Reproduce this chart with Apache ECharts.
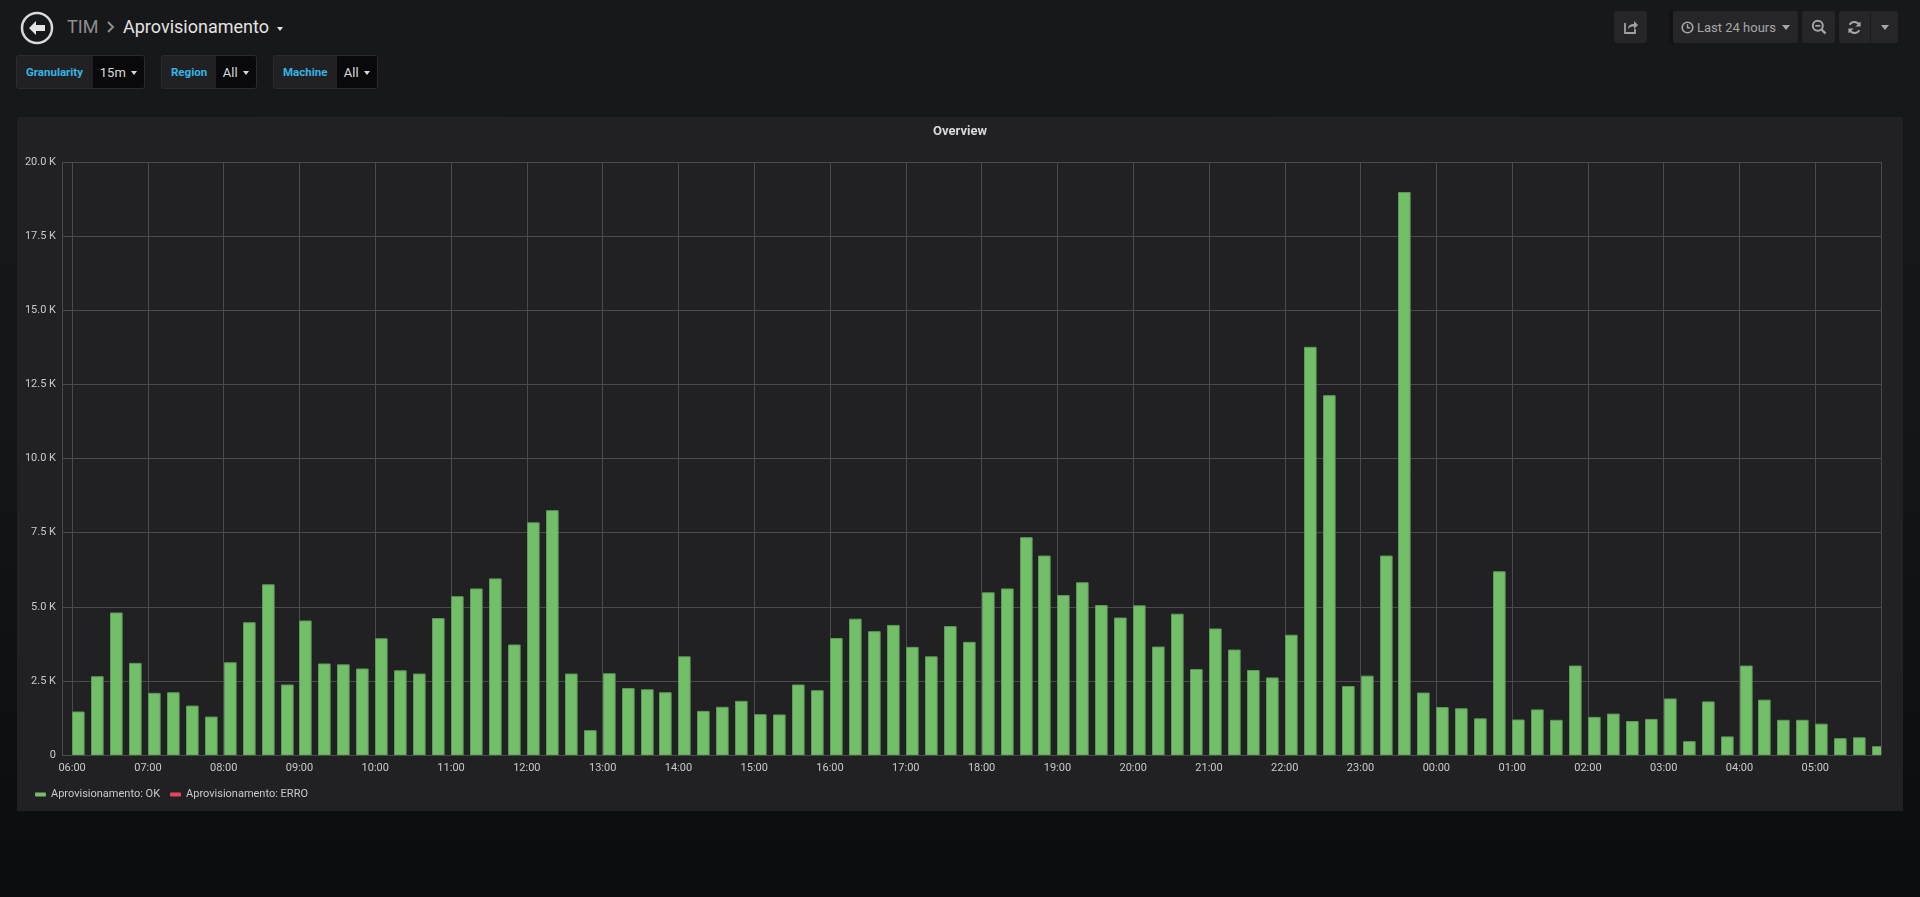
<!DOCTYPE html>
<html>
<head>
<meta charset="utf-8">
<script src="https://cdn.jsdelivr.net/npm/echarts@6.0.0/dist/echarts.min.js"></script>
<style>
    html, body {
        margin: 0;
        padding: 0;
        width: 1920px;
        height: 897px;
        overflow: hidden;
        font-family: Roboto, "Helvetica Neue", Arial, sans-serif;
        background: linear-gradient(to bottom, #17181a 0%, #151618 45%, #0b0c0e 100%);
    }
    .abs { position: absolute; }
    .crumb { top: 12px; height: 30px; line-height: 30px; font-size: 18px; }
    .var { top: 55px; height: 34px; display: flex; border-radius: 3px; overflow: hidden; border: 1px solid #2a2b2e; box-sizing: border-box; }
    .var .lbl { background: #212124; color: #33b5e5; font-weight: bold; font-size: 11.5px; display: flex; align-items: center; padding-left: 9px; box-sizing: border-box; }
    .var .val { background: #09090b; color: #d8d9da; font-size: 13px; display: flex; align-items: center; padding-left: 7px; padding-top: 1px; box-sizing: border-box; }
    .caret { display: inline-block; width: 0; height: 0; border-left: 3.5px solid transparent; border-right: 3.5px solid transparent; border-top: 4px solid #d8d9da; margin-left: 5px; }
    .btn { top: 11px; height: 32px; background: #262628; border-radius: 3px; display: flex; align-items: center; justify-content: center; color: #a5a6a7; font-size: 13px; }
    #panel { left: 17px; top: 117px; width: 1886px; height: 694px; background: #212124; }
    #wq-chart { width: 1886px; height: 694px; }
</style>
</head>
<body>
<!-- header -->
<svg class="abs" style="left:20px;top:11px" width="34" height="34" viewBox="0 0 34 34">
    <circle cx="17" cy="17" r="15" fill="none" stroke="#d8d9da" stroke-width="2.5"/>
    <path d="M9 17 L16 10 L16 14 L25 14 L25 20 L16 20 L16 24 Z" fill="#e3e3e3"/>
</svg>
<div class="abs crumb" style="left:67px;color:#8e8e8e">TIM</div>
<svg class="abs" style="left:105px;top:20px" width="12" height="14" viewBox="0 0 12 14">
    <polyline points="3,2 8,7 3,12" fill="none" stroke="#8e8e8e" stroke-width="2"/>
</svg>
<div class="abs crumb" style="left:123px;color:#e3e3e3">Aprovisionamento</div>
<div class="abs" style="left:277px;top:27px;width:0;height:0;border-left:3.5px solid transparent;border-right:3.5px solid transparent;border-top:4px solid #e3e3e3"></div>

<div class="abs var" style="left:16px;width:129px">
    <div class="lbl" style="width:77px">Granularity</div>
    <div class="val" style="width:52px">15m<span class="caret"></span></div>
</div>
<div class="abs var" style="left:161px;width:96px">
    <div class="lbl" style="width:55px">Region</div>
    <div class="val" style="width:41px">All<span class="caret"></span></div>
</div>
<div class="abs var" style="left:273px;width:105px">
    <div class="lbl" style="width:64px">Machine</div>
    <div class="val" style="width:41px">All<span class="caret"></span></div>
</div>

<!-- toolbar -->
<div class="abs btn" style="left:1614px;width:33px">
    <svg width="16" height="16" viewBox="0 0 16 16">
        <path d="M2 4 L2 14 L12 14 L12 10" fill="none" stroke="#9fa0a1" stroke-width="1.8"/>
        <path d="M5 10 C5 6 8 5 11 5 L11 2 L15 6 L11 10 L11 7.5 C8.5 7.5 6.5 8 5 10 Z" fill="#9fa0a1"/>
    </svg>
</div>
<div class="abs" style="left:1669px;top:11px;width:4px;height:32px;background:#111214"></div>
<div class="abs btn" style="left:1673px;width:125px;justify-content:flex-start">
    <svg style="margin-left:8px" width="13" height="13" viewBox="0 0 13 13">
        <circle cx="6.5" cy="6.5" r="5.3" fill="none" stroke="#a5a6a7" stroke-width="1.6"/>
        <polyline points="6.5,3.3 6.5,6.8 9,6.8" fill="none" stroke="#a5a6a7" stroke-width="1.4"/>
    </svg>
    <span style="margin-left:3px">Last 24 hours</span>
    <span style="margin-left:6px;width:0;height:0;border-left:4px solid transparent;border-right:4px solid transparent;border-top:5px solid #a5a6a7"></span>
</div>
<div class="abs btn" style="left:1802px;width:33px">
    <svg width="16" height="16" viewBox="0 0 16 16">
        <circle cx="6.8" cy="6.8" r="5" fill="none" stroke="#a5a6a7" stroke-width="2"/>
        <line x1="4.3" y1="6.8" x2="9.3" y2="6.8" stroke="#a5a6a7" stroke-width="1.8"/>
        <line x1="10.5" y1="10.5" x2="14.5" y2="14.5" stroke="#a5a6a7" stroke-width="2.4"/>
    </svg>
</div>
<div class="abs btn" style="left:1839px;width:59px;justify-content:flex-start">
    <div style="width:31px;display:flex;justify-content:center">
        <svg width="15" height="15" viewBox="0 0 16 16">
            <path d="M13.5 6 A6 6 0 0 0 2.8 5" fill="none" stroke="#a5a6a7" stroke-width="2"/>
            <path d="M2.5 10 A6 6 0 0 0 13.2 11" fill="none" stroke="#a5a6a7" stroke-width="2"/>
            <path d="M14.5 1.5 L14.5 7 L9 7 Z" fill="#a5a6a7"/>
            <path d="M1.5 14.5 L1.5 9 L7 9 Z" fill="#a5a6a7"/>
        </svg>
    </div>
    <div style="width:1px;height:32px;background:#1b1c1e"></div>
    <div style="width:27px;display:flex;justify-content:center">
        <span style="width:0;height:0;border-left:4px solid transparent;border-right:4px solid transparent;border-top:5px solid #a5a6a7"></span>
    </div>
</div>

<div id="panel" class="abs"><div id="wq-chart"></div></div>

<script>
// 15m buckets starting 06:00
var okValues = [
    1450, 2640, 4790, 3090, 2080, 2100, 1650, 1280,
    3110, 4460, 5740, 2360, 4520, 3070, 3040, 2900,
    3920, 2840, 2730, 4600, 5340, 5600, 5940, 3710,
    7830, 8240, 2730, 820, 2740, 2240, 2200, 2100,
    3310, 1470, 1610, 1810, 1360, 1350, 2360, 2170,
    3930, 4580, 4160, 4370, 3630, 3310, 4330, 3800,
    5470, 5600, 7330, 6710, 5380, 5810, 5040, 4620,
    5030, 3640, 4750, 2880, 4250, 3540, 2850, 2600,
    4040, 13750, 12120, 2310, 2660, 6710, 18970, 2090,
    1600, 1560, 1220, 6180, 1180, 1520, 1170, 3000,
    1270, 1380, 1130, 1200, 1890, 450, 1790, 610,
    3000, 1850, 1170, 1170, 1040, 550, 580, 280
];
var erroValues = [];
var yTicks = [0, 2500, 5000, 7500, 10000, 12500, 15000, 17500, 20000];

var startTime = new Date(2019, 2, 10, 6, 0, 0).getTime();
var step = 15 * 60 * 1000;
var hour = 3600 * 1000;
var viewMin = startTime - 8 * 60 * 1000;
var viewMax = viewMin + 24 * hour;

var pad = function (n) { return n < 10 ? '0' + n : '' + n; };
var toPoints = function (values) {
    var out = [];
    for (var i = 0; i < values.length; i++) {
        out.push([startTime + i * step, values[i]]);
    }
    return out;
};

// grafana style bars: start at the bucket time, not centered
var barItem = function (fill, stroke) {
    return function (params, api) {
        var top = api.coord([api.value(0), api.value(1)]);
        var base = api.coord([api.value(0), 0]);
        var w = api.size([10 * 60 * 1000, 0])[0];
        return {
            type: 'rect',
            shape: { x: Math.round(top[0]) + 0.5, y: top[1], width: w - 1, height: base[1] - top[1] },
            style: { fill: fill, stroke: stroke, lineWidth: 1 }
        };
    };
};

var chart = echarts.init(document.getElementById('wq-chart'));
var gridColor = '#4b4b4e';
var labelColor = '#c8c9ca';
var option = {
    backgroundColor: 'transparent',
    animation: false,
    textStyle: { fontFamily: 'Roboto' },
    title: {
        text: 'Overview',
        left: 'center',
        top: 3,
        textStyle: { color: '#d8d9da', fontSize: 13, fontWeight: 'bold', fontFamily: 'Roboto' }
    },
    grid: { left: 45, right: 22, top: 45, bottom: 56 },
    legend: {
        left: 18,
        top: 672,
        padding: 0,
        itemWidth: 11,
        itemHeight: 4,
        itemGap: 10,
        icon: 'roundRect',
        textStyle: { color: labelColor, fontSize: 11, fontFamily: 'Roboto' },
        data: [
            { name: 'Aprovisionamento: OK', itemStyle: { color: '#73bf69', borderWidth: 0 } },
            { name: 'Aprovisionamento: ERRO', itemStyle: { color: '#e5475a', borderWidth: 0 } }
        ]
    },
    xAxis: {
        type: 'time',
        min: viewMin,
        max: viewMax,
        minInterval: hour,
        maxInterval: hour,
        axisLine: { show: false },
        axisTick: { show: false },
        axisLabel: {
            color: labelColor,
            fontSize: 11,
            margin: 8,
            showMinLabel: false,
            showMaxLabel: false,
            formatter: function (v) {
                var d = new Date(v);
                return pad(d.getHours()) + ':' + pad(d.getMinutes());
            }
        },
        splitLine: { show: true, lineStyle: { color: gridColor, width: 1 } }
    },
    yAxis: {
        type: 'value',
        min: yTicks[0],
        max: yTicks[yTicks.length - 1],
        interval: yTicks[1] - yTicks[0],
        axisLine: { show: false },
        axisTick: { show: false },
        axisLabel: {
            color: labelColor,
            fontSize: 11,
            margin: 6,
            formatter: function (v) {
                return v === 0 ? '0' : (v / 1000).toFixed(1) + ' K';
            }
        },
        splitLine: { show: true, lineStyle: { color: gridColor, width: 1 } }
    },
    series: [
        {
            name: 'Aprovisionamento: OK',
            type: 'custom',
            clip: true,
            itemStyle: { color: '#73bf69' },
            encode: { x: 0, y: 1 },
            renderItem: barItem('#73bf69', '#5e9a57'),
            data: toPoints(okValues)
        },
        {
            name: 'Aprovisionamento: ERRO',
            type: 'custom',
            clip: true,
            itemStyle: { color: '#e5475a' },
            encode: { x: 0, y: 1 },
            renderItem: barItem('#e5475a', '#b8394a'),
            data: toPoints(erroValues)
        }
    ]
};
chart.setOption(option);
</script>
</body>
</html>
